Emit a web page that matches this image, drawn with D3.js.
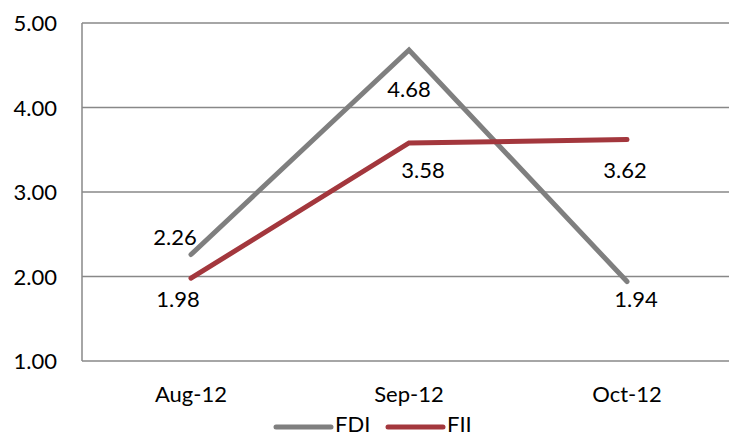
<!DOCTYPE html>
<html>
<head>
<meta charset="utf-8" />
<title>FDI / FII</title>
<script src="https://d3js.org/d3.v7.min.js"></script>
<style>
body { margin: 0; background: white; font-family: "Lato", sans-serif; }
text { font-size: 22px; fill: #000; }
</style>
</head>
<body>
<script>
// data
var months = ["Aug-12", "Sep-12", "Oct-12"];
var fdi = [2.26, 4.68, 1.94];
var fii = [1.98, 3.58, 3.62];
var yTicks = [1, 2, 3, 4, 5];

var width = 729, height = 436;
var plotLeft = 82, plotRight = 736, plotTop = 23, plotBottom = 361;

var svg = d3.select("body").append("svg")
  .attr("width", width)
  .attr("height", height);

var x = d3.scaleBand().domain(months).range([plotLeft, plotRight]);
var y = d3.scaleLinear().domain([1, 5]).range([plotBottom, plotTop]);
var cx = function(m) { return x(m) + x.bandwidth() / 2; };

// gridlines
svg.append("g").selectAll("line")
  .data(yTicks)
  .enter().append("line")
  .attr("x1", plotLeft).attr("x2", plotRight)
  .attr("y1", function(d) { return y(d); })
  .attr("y2", function(d) { return y(d); })
  .attr("stroke", "#888").attr("stroke-width", 1.5);

// y axis line
svg.append("line")
  .attr("x1", plotLeft).attr("x2", plotLeft)
  .attr("y1", plotTop).attr("y2", plotBottom)
  .attr("stroke", "#888").attr("stroke-width", 1.5);

// y labels
svg.append("g").selectAll("text")
  .data(yTicks)
  .enter().append("text")
  .attr("x", 57)
  .attr("y", function(d) { return y(d) + 8; })
  .attr("text-anchor", "end")
  .text(function(d) { return d.toFixed(2); });

// x labels
svg.append("g").selectAll("text")
  .data(months)
  .enter().append("text")
  .attr("x", cx)
  .attr("y", 402)
  .attr("text-anchor", "middle")
  .text(function(d) { return d; });

var series = [
  { name: "FDI", values: fdi, color: "#7f7f7f",
    off: [[-16, -10], [0, 47], [9, 25]] },
  { name: "FII", values: fii, color: "#a3373d",
    off: [[-13, 29], [14, 35], [-2, 38]] }
];

var line = d3.line()
  .x(function(d, i) { return cx(months[i]); })
  .y(function(d) { return y(d); });

series.forEach(function(s) {
  svg.append("path")
    .attr("d", line(s.values))
    .attr("fill", "none")
    .attr("stroke", s.color)
    .attr("stroke-width", 5)
    .attr("stroke-linecap", "round")
    .attr("stroke-linejoin", "miter");
});

// data labels
series.forEach(function(s) {
  svg.append("g").selectAll("text")
    .data(s.values)
    .enter().append("text")
    .attr("x", function(d, i) { return cx(months[i]) + s.off[i][0]; })
    .attr("y", function(d, i) { return y(d) + s.off[i][1]; })
    .attr("text-anchor", "middle")
    .text(function(d) { return d.toFixed(2); });
});

// legend
var legendX = [276, 388];
series.forEach(function(s, i) {
  svg.append("line")
    .attr("x1", legendX[i]).attr("x2", legendX[i] + 55)
    .attr("y1", 427).attr("y2", 427)
    .attr("stroke", s.color).attr("stroke-width", 5)
    .attr("stroke-linecap", "round");
  svg.append("text")
    .attr("x", legendX[i] + 59)
    .attr("y", 432)
    .text(s.name);
});
</script>
</body>
</html>
